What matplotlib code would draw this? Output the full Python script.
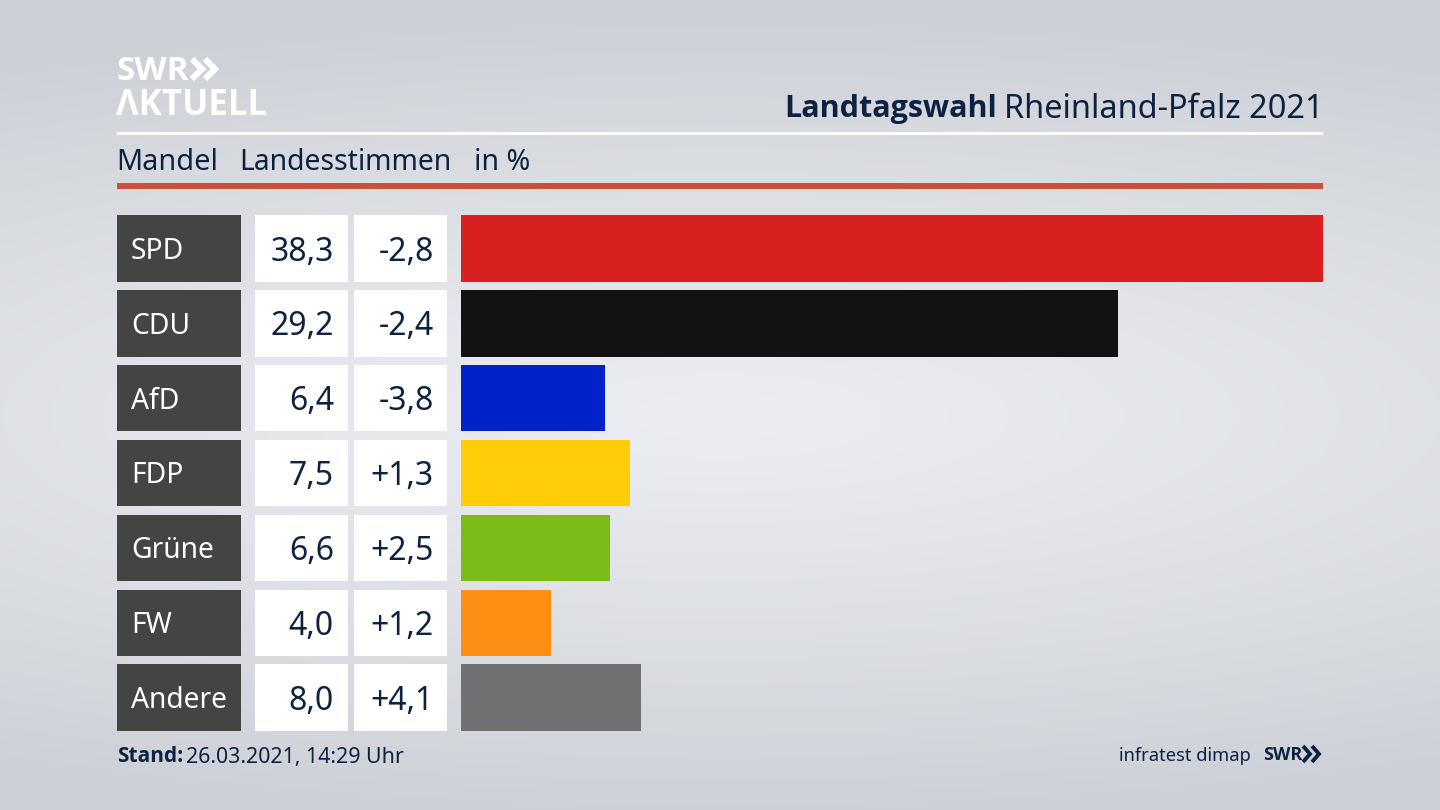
import numpy as np
import matplotlib
matplotlib.use("Agg")
import matplotlib.pyplot as plt
from matplotlib.patches import Rectangle

parties = ["SPD", "CDU", "AfD", "FDP", "Grüne", "FW", "Andere"]
shares = [38.3, 29.2, 6.4, 7.5, 6.6, 4.0, 8.0]
changes = ["-2,8", "-2,4", "-3,8", "+1,3", "+2,5", "+1,2", "+4,1"]
share_labels = ["38,3", "29,2", "6,4", "7,5", "6,6", "4,0", "8,0"]
colors = ["#d7201f", "#121212", "#0022c8", "#ffcc08", "#7abd19", "#fe8f15", "#707172"]

W, H = 1440, 810
NAVY = "#0d2240"
plt.rcParams["font.family"] = ["Noto Sans", "DejaVu Sans"]
fig = plt.figure(figsize=(14.4, 8.1), dpi=100)

# background + decoration in pixel coordinates
bg = fig.add_axes([0, 0, 1, 1])
bg.set_xlim(0, W); bg.set_ylim(H, 0); bg.axis("off")
yy, xx = np.mgrid[0:H:2, 0:W:2]
d = np.sqrt(((xx - 720) / 1500.0) ** 2 + ((yy - 415) / 400.0) ** 2)
c0 = np.array([235, 237, 242]) / 255
c1 = np.array([205, 208, 214]) / 255
t = np.clip(d, 0, 1)[..., None] ** 1.2
bg.imshow(c0 * (1 - t) + c1 * t, extent=[0, W, H, 0], aspect="auto", zorder=0, interpolation="bilinear")
bg.set_xlim(0, W); bg.set_ylim(H, 0)

# logo
bg.text(117, 72, "SWR", color="white", fontsize=24, fontweight="bold", family="Open Sans",
        va="center", ha="left")
for x0 in (192, 205):
    bg.plot([x0, x0 + 10, x0], [59, 69, 79], color="white", lw=4.4, solid_joinstyle="miter", solid_capstyle="butt")
bg.text(116, 106, "ΛKTUELL", color="white", fontsize=25, fontweight="bold", family="Open Sans",
        va="center", ha="left")

# title
bg.text(1323, 109, "Rheinland-Pfalz 2021", color=NAVY, fontsize=23.4, ha="right", va="center")
bg.text(997, 109, "Landtagswahl", color=NAVY, fontsize=22, fontweight="bold", ha="right", va="center",
        family="Open Sans")

bg.add_patch(Rectangle((117, 132), 1206, 3, color="white", lw=0))
bg.add_patch(Rectangle((117, 183), 1206, 6, color="#c9503a", lw=0))

for x, s, fs in [(116, "Mandel", 20.8), (239, "Landesstimmen", 20.4), (474, "in %", 20.6)]:
    bg.text(x, 163, s, color=NAVY, fontsize=fs, ha="left", va="center")

# table cells and bars share the row scale
ax = fig.add_axes([461 / W, 1 - 731 / H, (1323 - 461) / W, (731 - 215) / H])
ax.patch.set_alpha(0)
ax.axis("off")
h = 66.6 / 74.9
ax.barh(range(len(parties)), shares, height=h, color=colors)
ax.set_xlim(0, max(shares))
ax.set_ylim(len(parties) - 1 + h / 2, -h / 2)

px_x = lambda p: (p - 461) / (1323 - 461) * max(shares)
for i, (p, s, c) in enumerate(zip(parties, share_labels, changes)):
    for x0, x1, col in [(117, 241.5, "#444442"), (255.5, 348, "white"), (354.5, 447, "white")]:
        ax.add_patch(Rectangle((px_x(x0), i - h / 2), px_x(x1) - px_x(x0), h, color=col, lw=0, clip_on=False))
    ax.text(px_x(131), i + 0.04, p, color="white", fontsize=20.3, ha="left", va="center", clip_on=False)
    ax.text(px_x(334), i + 0.05, s, color=NAVY, fontsize=23, ha="right", va="center", clip_on=False)
    ax.text(px_x(434), i + 0.05, c, color=NAVY, fontsize=23, ha="right", va="center", clip_on=False)

# footer
bg.text(117, 756, "Stand:", color=NAVY, fontsize=15, fontweight="bold", ha="left", va="center", family="Open Sans")
bg.text(186, 757, "26.03.2021, 14:29 Uhr", color=NAVY, fontsize=15.4, ha="left", va="center")
bg.text(1251, 756, "infratest dimap", color=NAVY, fontsize=13.2, ha="right", va="center")
bg.text(1263, 755, "SWR", color=NAVY, fontsize=13, fontweight="bold", ha="left", va="center", family="Open Sans")
for x0 in (1303, 1312):
    bg.plot([x0, x0 + 7, x0], [746, 754, 762], color=NAVY, lw=2.8, solid_joinstyle="miter", solid_capstyle="butt")

fig.savefig("out.png", dpi=100)
